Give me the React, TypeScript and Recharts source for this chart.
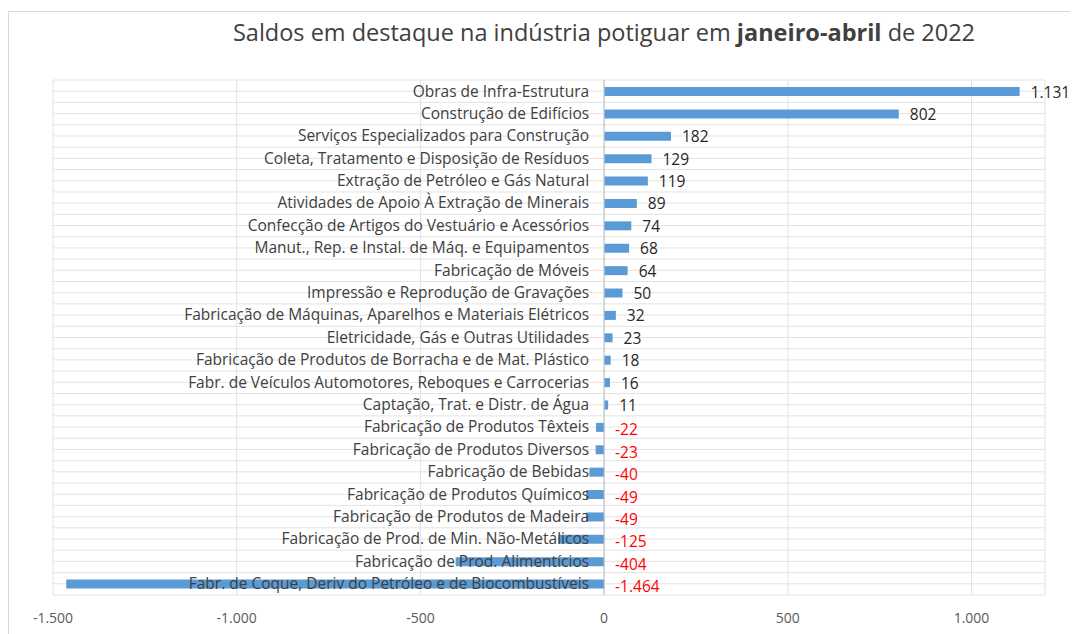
import { BarChart, Bar, XAxis, YAxis, CartesianGrid, ReferenceLine, LabelList } from "recharts";

const sectors = [
  "Obras de Infra-Estrutura",
  "Construção de Edifícios",
  "Serviços Especializados para Construção",
  "Coleta, Tratamento e Disposição de Resíduos",
  "Extração de Petróleo e Gás Natural",
  "Atividades de Apoio À Extração de Minerais",
  "Confecção de Artigos do Vestuário e Acessórios",
  "Manut., Rep. e Instal. de Máq. e Equipamentos",
  "Fabricação de Móveis",
  "Impressão e Reprodução de Gravações",
  "Fabricação de Máquinas, Aparelhos e Materiais Elétricos",
  "Eletricidade, Gás e Outras Utilidades",
  "Fabricação de Produtos de Borracha e de Mat. Plástico",
  "Fabr. de Veículos Automotores, Reboques e Carrocerias",
  "Captação, Trat. e Distr. de Água",
  "Fabricação de Produtos Têxteis",
  "Fabricação de Produtos Diversos",
  "Fabricação de Bebidas",
  "Fabricação de Produtos Químicos",
  "Fabricação de Produtos de Madeira",
  "Fabricação de Prod. de Min. Não-Metálicos",
  "Fabricação de Prod. Alimentícios",
  "Fabr. de Coque, Deriv do Petróleo e de Biocombustíveis",
];

const saldos = [1131, 802, 182, 129, 119, 89, 74, 68, 64, 50, 32, 23, 18, 16, 11, -22, -23, -40, -49, -49, -125, -404, -1464];

const xTicks = [-1500, -1000, -500, 0, 500, 1000];
const xDomain = [-1500, 1200];

const data = sectors.map((name, i) => ({ name, value: saldos[i] }));

const font = "'Open Sans', sans-serif";

// formato pt-BR: 1.131, -1.464
function fmt(n: number) {
  const s = Math.abs(n).toString().replace(/\B(?=(\d{3})+(?!\d))/g, ".");
  return n < 0 ? "-" + s : s;
}

function BarLabels(props: any) {
  const vb = props.viewBox || props;
  const x = vb.x ?? props.x;
  const y = vb.y ?? props.y;
  const w = vb.width ?? props.width;
  const h = vb.height ?? props.height;
  const row = data[props.index];
  if (!row) return null;
  const left = Math.min(x, x + w);
  const right = Math.max(x, x + w);
  const zeroX = row.value >= 0 ? left : right;
  const cy = y + h / 2;
  return (
    <g>
      <text x={zeroX - 15} y={cy} dy={5} textAnchor="end" fontSize={15.5} fill="#404040" fontFamily={font}>
        {row.name}
      </text>
      <text
        x={right + 11}
        y={cy}
        dy={row.value < 0 ? 8 : 6}
        textAnchor="start"
        fontSize={15.5}
        fill={row.value < 0 ? "#FF0000" : "#262626"}
        fontFamily={font}
      >
        {fmt(row.value)}
      </text>
    </g>
  );
}

export default function App() {
  return (
    <div
      style={{
        position: "relative",
        marginTop: 3,
        width: 1069,
        height: 622,
        borderTop: "1px solid #D9D9D9",
        borderLeft: "1px solid #D9D9D9",
        background: "#fff",
        fontFamily: font,
      }}
    >
      <div
        style={{
          position: "absolute",
          top: 4,
          left: 0,
          width: 1190,
          textAlign: "center",
          fontSize: 23.5,
          color: "#404040",
        }}
      >
        Saldos em destaque na indústria potiguar em <b>janeiro-abril</b> de 2022
      </div>
      <BarChart
        width={1069}
        height={622}
        data={data}
        layout="vertical"
        margin={{ top: 68, right: 33, bottom: 9, left: 44 }}
        barSize={9}
      >
        <CartesianGrid
          stroke="#E3E3E3"
          horizontalCoordinatesGenerator={({ offset }: any) =>
            Array.from({ length: data.length * 2 + 1 }, (_, i) => offset.top + (i * offset.height) / (data.length * 2))
          }
        />
        <XAxis
          type="number"
          domain={xDomain}
          ticks={xTicks}
          tickFormatter={fmt}
          axisLine={false}
          tickLine={false}
          height={30}
          tick={{ fontSize: 14, fill: "#595959", fontFamily: font }}
          tickMargin={12}
        />
        <YAxis type="category" dataKey="name" hide />
        <ReferenceLine x={0} stroke="#BFBFBF" />
        <Bar dataKey="value" fill="#5B9BD5" isAnimationActive={false}>
          <LabelList dataKey="value" content={BarLabels} />
        </Bar>
      </BarChart>
    </div>
  );
}
